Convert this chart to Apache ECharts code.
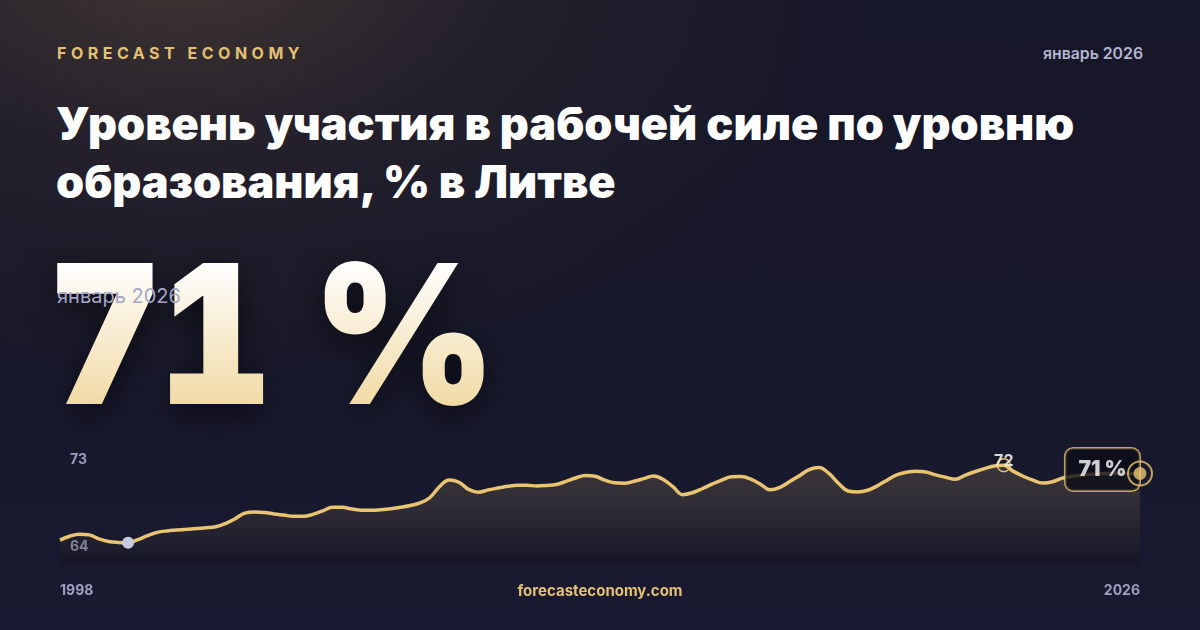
<!DOCTYPE html>
<html>
<head>
<meta charset="utf-8">
<script src="https://cdn.jsdelivr.net/npm/echarts@6/dist/echarts.min.js"></script>
<style>
  html, body { margin:0; padding:0; }
  body { width:1200px; height:630px; overflow:hidden; font-family: Inter, "Noto Sans", sans-serif; }
  #bg { position:absolute; left:0; top:0; width:1200px; height:630px;
    background:
      radial-gradient(ellipse 700px 420px at 180px -40px, rgba(78,64,52,0.75) 0%, rgba(60,50,48,0.35) 45%, rgba(24,25,46,0) 100%),
      linear-gradient(180deg, #17172a 0%, #171829 50%, #191a31 100%);
  }
  #chart { position:absolute; left:0; top:0; width:1200px; height:630px; }
  .brand { position:absolute; left:57px; top:43px; font-size:16px; font-weight:700; letter-spacing:4.5px; color:#e3c073; }
  .date { position:absolute; right:57px; top:44px; font-size:15.8px; font-weight:600; color:#b3b6cf; }
  .title { position:absolute; left:56px; top:95px; font-size:45px; line-height:58px; font-weight:900; color:#ffffff; letter-spacing:0px; white-space:nowrap; }
  .big { position:absolute; left:48px; top:214px; font-size:194px; font-weight:900; letter-spacing:-4px; line-height:240px;
    font-variant-numeric: tabular-nums; font-feature-settings: "tnum" 1; white-space:nowrap;
    transform: scaleX(0.91); transform-origin: 0 50%;
    background: linear-gradient(180deg, #ffffff 20%, #f0d79c 85%);
    -webkit-background-clip:text; background-clip:text; color:transparent;
    filter: drop-shadow(0 10px 18px rgba(0,0,0,0.55)); }
  .sub { position:absolute; left:57px; top:284px; font-size:20px; font-weight:400; color:#a5a7c6; }
  .site { position:absolute; left:0; width:1200px; top:581px; text-align:center; font-size:15px; font-weight:700; color:#e3c073; }
</style>
</head>
<body>
<div id="bg"></div>
<div class="brand">FORECAST ECONOMY</div>
<div class="date" id="date1"></div>
<div class="title">Уровень участия в рабочей силе по уровню<br>образования, % в Литве</div>
<div class="big" id="big"></div>
<div class="sub" id="date2"></div>
<div id="chart"></div>
<div class="site">forecasteconomy.com</div>
<script>
// ---- data ----
const periodLabel = 'январь 2026';
const xTickLabels = ['1998', '2026'];
const yTickValues = [64, 73];
const categories = [];
for (let y = 1998; y <= 2025; y++) { for (let q = 1; q <= 4; q++) categories.push(y + ' Q' + q); }
const values = [
  64.27,64.67,64.88,64.81,64.39,64.13,64.03,64.00,64.31,64.73,
  65.07,65.22,65.30,65.38,65.47,65.54,65.64,65.98,66.48,67.05,
  67.16,67.11,66.97,66.85,66.73,66.72,66.93,67.29,67.65,67.65,
  67.48,67.34,67.34,67.41,67.51,67.65,67.84,68.11,68.64,69.78,
  70.47,70.24,69.50,69.21,69.45,69.64,69.82,69.93,69.93,69.85,
  69.90,70.01,70.33,70.68,70.94,70.86,70.45,70.18,70.14,70.35,
  70.61,70.88,70.53,69.78,68.96,69.16,69.57,70.04,70.47,70.80,
  70.83,70.57,70.04,69.47,69.72,70.31,70.92,71.54,71.75,71.17,
  70.14,69.34,69.23,69.41,69.87,70.45,71.00,71.28,71.38,71.30,
  71.00,70.76,70.55,70.96,71.32,71.65,71.92,72.00,71.36,70.86,
  70.45,70.16,70.29,70.66,70.86,70.97,71.07,71.12,71.17,71.17,
  71.15,71.14
];
// ---- page ----
const lastIdx = values.length - 1;
const lastVal = values[lastIdx];
const lastText = Math.round(lastVal) + ' %';
document.getElementById('date1').textContent = periodLabel;
document.getElementById('date2').textContent = periodLabel;
document.getElementById('big').textContent = lastText;

const gold = '#e8c473';
const chart = echarts.init(document.getElementById('chart'), null, { renderer: 'canvas' });
chart.setOption({
  backgroundColor: 'transparent',
  animation: false,
  grid: { left: 60, right: 60, top: 440, bottom: 65 },
  xAxis: {
    type: 'category', data: categories, boundaryGap: false,
    axisLine: { show: false }, axisTick: { show: false }, splitLine: { show: false },
    axisLabel: {
      interval: 0, margin: 19, fontSize: 14, fontWeight: 'bold', color: '#9c9fbd', fontFamily: 'Inter',
      alignMinLabel: 'left', alignMaxLabel: 'right',
      formatter: (v, i) => i === 0 ? xTickLabels[0] : (i === lastIdx ? xTickLabels[1] : '')
    }
  },
  yAxis: {
    type: 'value', min: 61.7, max: 74.6,
    axisLine: { show: false }, axisTick: { show: false }, splitLine: { show: false },
    axisLabel: {
      inside: true, customValues: yTickValues, margin: 10, fontSize: 14, fontWeight: 'bold',
      color: '#9a9dbb', fontFamily: 'Inter', verticalAlign: 'top', lineHeight: 8
    }
  },
  series: [
    {
      type: 'line', data: values, smooth: 0.4, symbol: 'none', z: 2,
      lineStyle: { color: gold, width: 3.5 },
      areaStyle: {
        color: new echarts.graphic.LinearGradient(0, 0, 0, 1, [
          { offset: 0, color: 'rgba(232,196,130,0.24)' },
          { offset: 1, color: 'rgba(8,8,14,0.35)' }
        ])
      },
      markPoint: {
        symbol: 'circle',
        data: [
          { type: 'min', symbolSize: 12, itemStyle: { color: '#c6c9df' }, label: { show: false } },
          { type: 'max', symbolSize: 13, itemStyle: { color: 'rgba(0,0,0,0)', borderColor: gold, borderWidth: 1.5 },
            label: { show: true, position: 'inside', offset: [0, -4], color: 'rgba(240,234,220,0.9)', fontSize: 16,
              fontWeight: 'bold', fontFamily: 'Inter', formatter: p => String(Math.round(p.value)) } }
        ]
      }
    },
    {
      type: 'scatter', z: 3, symbolSize: 1, itemStyle: { color: 'rgba(0,0,0,0)' },
      data: [[categories[lastIdx], lastVal]],
      label: {
        show: true, position: 'left', distance: 0, offset: [0, -4],
        formatter: () => lastText,
        color: '#ffffff', fontSize: 21, fontWeight: 900, fontFamily: 'Inter',
        backgroundColor: '#0b0c18', borderColor: gold, borderWidth: 1.5, borderRadius: 8,
        padding: [11, 13, 10, 13]
      }
    },
    {
      type: 'scatter', z: 5, symbol: 'circle', symbolSize: 24,
      itemStyle: { color: 'rgba(0,0,0,0)', borderColor: gold, borderWidth: 2 },
      data: [[categories[lastIdx], lastVal]]
    },
    {
      type: 'scatter', z: 6, symbol: 'circle', symbolSize: 13,
      itemStyle: { color: gold },
      data: [[categories[lastIdx], lastVal]]
    }
  ]
});
</script>
</body>
</html>
